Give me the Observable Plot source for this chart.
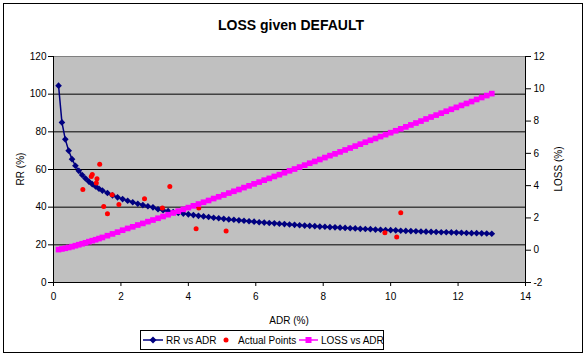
<!DOCTYPE html>
<html>
<head>
<meta charset="utf-8">
<script src="https://cdn.jsdelivr.net/npm/d3@7"></script>
<script src="https://cdn.jsdelivr.net/npm/@observablehq/plot@0.6"></script>
<style>
  html, body { margin: 0; padding: 0; background: white; }
</style>
</head>
<body>
<div id="chart"></div>
<script>
// ---- data ----
const adr = [0.15,0.25,0.35,0.45,0.55,0.65,0.75,0.85,0.95,1.05,1.15,1.25,1.35,1.45,
  1.6,1.75,1.9,2.05,2.2,2.35,2.5,2.65,2.8,2.95,3.1,3.25,3.4,3.55,3.7,3.85,4.0,4.15,4.3,4.45,4.6,4.75,4.9,5.05,
  5.2,5.35,5.5,5.65,5.8,5.95,6.1,6.25,6.4,6.55,6.7,6.85,7.0,7.15,7.3,7.45,7.6,7.75,7.9,8.05,8.2,8.35,8.5,8.65,
  8.8,8.95,9.1,9.25,9.4,9.55,9.7,9.85,10.0,10.15,10.3,10.45,10.6,10.75,10.9,11.05,11.2,11.35,11.5,11.65,11.8,
  11.95,12.1,12.25,12.4,12.55,12.7,12.85,13.0];
const rr = [104.5,85,76,70,65.5,62,59.3,57.1,55.2,53.6,52.2,51.0,49.8,48.8,
  47.5,46.3,45.2,44.3,43.4,42.6,41.8,41.1,40.5,39.9,
  38.9,38.4,37.9,37.4,37.0,36.6,36.2,35.8,35.4,35.1,34.8,34.4,34.1,33.8,
  33.5,33.3,33.0,32.8,32.5,32.3,32.0,31.8,31.6,31.4,31.2,31.0,30.8,30.6,30.4,30.2,30.1,29.9,29.7,29.6,29.4,29.3,
  29.1,29.0,28.8,28.7,28.5,28.4,28.3,28.1,28.0,27.9,27.8,27.7,27.5,27.4,27.3,27.2,27.1,27.0,26.9,
  26.8,26.7,26.7,26.6,26.5,26.4,26.3,26.2,26.2,26.1,26.0,25.9];
const loss = [0.04,0.08,0.12,0.17,0.22,0.28,0.34,0.40,0.46,0.53,0.59,0.65,0.72,0.79,
  0.90,1.01,1.12,1.24,1.35,1.45,1.56,1.66,1.77,1.87,1.98,2.09,2.20,2.31,2.42,2.53,2.64,2.75,2.86,2.97,3.08,3.20,3.31,3.42,
  3.54,3.65,3.76,3.88,3.99,4.11,4.22,4.34,4.45,4.57,4.68,4.80,4.92,5.03,5.15,5.27,5.39,5.50,5.62,5.74,5.86,5.97,6.09,6.21,
  6.33,6.45,6.57,6.69,6.81,6.92,7.04,7.16,7.28,7.40,7.52,7.64,7.76,7.88,8.00,8.13,8.25,8.37,8.49,8.61,8.73,
  8.85,8.97,9.09,9.21,9.34,9.46,9.58,9.70];
const actualAdr = [0.87,1.12,1.15,1.27,1.29,1.37,1.49,1.6,1.74,1.94,2.70,3.23,3.45,4.23,4.31,5.12,9.83,10.18,10.3];
const actualRr  = [49.4,56.3,57.4,52.8,55.1,62.8,40.3,36.5,46.6,41.4,44.5,39.6,51.0,28.5,39.5,27.3,26.4,24.1,37.0];
const leftTicks = [0,20,40,60,80,100,120];
const gridLines = [20,40,60,80,100];
const rightTicks = [-2,0,2,4,6,8,10,12];
const bottomTicks = [0,2,4,6,8,10,12,14];

// ---- tables ----
const curve = adr.map((a,i) => ({adr:a, rr:rr[i], loss:loss[i]}));
const actual = actualAdr.map((a,i) => ({adr:a, rr:actualRr[i]}));
const toLeft = v => (v + 2) * 120 / 14;
const fromLeft = v => v * 14 / 120 - 2;

const NAVY = "#000080", RED = "#FF0000", MAG = "#FF00FF";
const FONT = "Arial, 'Liberation Sans', sans-serif";

const chart = Plot.plot({
  width: 588, height: 358,
  marginLeft: 53, marginRight: 63, marginTop: 56, marginBottom: 76,
  style: {fontFamily: FONT, fontSize: "10px", background: "white", color: "black"},
  x: {domain: [0, 14]},
  y: {domain: [0, 120]},
  marks: [
    Plot.frame({fill: "#C0C0C0", stroke: "#808080"}),
    Plot.ruleY(gridLines, {stroke: "black"}),
    Plot.ruleY([0], {stroke: "black"}),
    Plot.ruleX([0], {stroke: "black"}),
    Plot.ruleX([14], {stroke: "black"}),
    Plot.axisY({ticks: leftTicks, tickSize: 5, tickPadding: 2, label: null, stroke: "black"}),
    Plot.axisY({anchor: "right", ticks: rightTicks.map(toLeft), tickFormat: d => String(Math.round(fromLeft(d))), tickSize: 5, tickPadding: 3, label: null}),
    Plot.axisX({ticks: bottomTicks, tickSize: 4, tickPadding: 6, label: null}),
    Plot.line(curve, {x: "adr", y: "rr", stroke: NAVY, strokeWidth: 1.5}),
    Plot.dot(curve, {x: "adr", y: "rr", symbol: "diamond2", r: 3, fill: NAVY}),
    Plot.dot(actual, {x: "adr", y: "rr", r: 2.5, fill: RED}),
    Plot.line(curve, {x: "adr", y: d => toLeft(d.loss), stroke: MAG, strokeWidth: 1.5}),
    Plot.dot(curve, {x: "adr", y: d => toLeft(d.loss), symbol: "square", r: 3.2, fill: MAG})
  ]
});
document.getElementById("chart").appendChild(chart);

// ---- decorations: border, titles, legend ----
const svg = d3.select(chart);
svg.append("rect").attr("x", 3.5).attr("y", 3.5).attr("width", 579).attr("height", 349)
  .attr("fill", "none").attr("stroke", "black");
const txt = (x, y, s, opts = {}) => svg.append("text")
  .attr("x", x).attr("y", y).attr("font-family", FONT)
  .attr("font-size", opts.size || 10).attr("font-weight", opts.weight || "normal")
  .attr("text-anchor", opts.anchor || "middle").attr("fill", "black")
  .attr("transform", opts.rotate ? `rotate(-90 ${x} ${y})` : null).text(s);
txt(291, 30, "LOSS given DEFAULT", {size: 14, weight: "bold"});
txt(24, 169, "RR (%)", {rotate: true});
txt(562, 169, "LOSS (%)", {rotate: true});
txt(289, 324, "ADR (%)");

// legend
const lg = svg.append("g");
lg.append("rect").attr("x", 140.5).attr("y", 330.5).attr("width", 243).attr("height", 19)
  .attr("fill", "white").attr("stroke", "black");
const ly = 340;
lg.append("line").attr("x1", 143).attr("x2", 163).attr("y1", ly).attr("y2", ly).attr("stroke", NAVY).attr("stroke-width", 1.5);
lg.append("path").attr("d", `M153,${ly-3.5}L156.5,${ly}L153,${ly+3.5}L149.5,${ly}Z`).attr("fill", NAVY);
txt(166, ly + 3.5, "RR vs ADR", {anchor: "start"});
lg.append("circle").attr("cx", 226).attr("cy", ly).attr("r", 2.5).attr("fill", RED);
txt(238, ly + 3.5, "Actual Points", {anchor: "start"});
lg.append("line").attr("x1", 299).attr("x2", 318).attr("y1", ly).attr("y2", ly).attr("stroke", MAG).attr("stroke-width", 1.5);
lg.append("rect").attr("x", 305.5).attr("y", ly - 3).attr("width", 6).attr("height", 6).attr("fill", MAG);
txt(321, ly + 3.5, "LOSS vs ADR", {anchor: "start"});
</script>
</body>
</html>
